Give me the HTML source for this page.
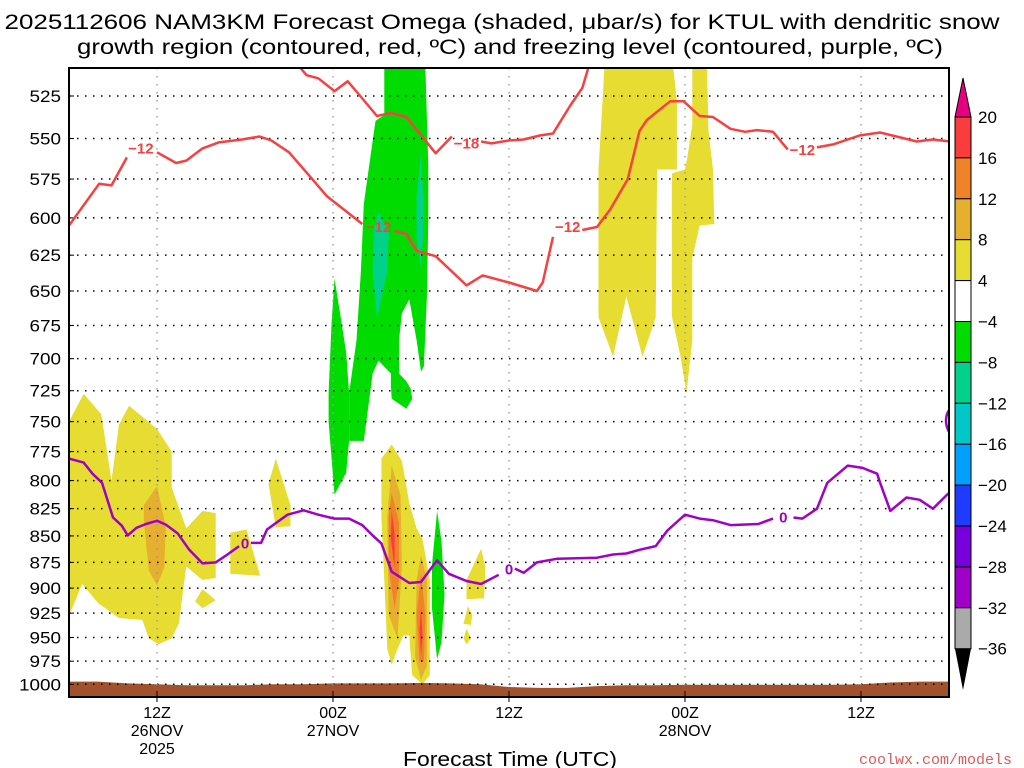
<!DOCTYPE html>
<html><head><meta charset="utf-8"><style>
html,body{margin:0;padding:0;background:#fff;}
svg{display:block;font-family:"Liberation Sans",sans-serif;}
</style></head><body>
<svg id="chart" width="1024" height="768" viewBox="0 0 1024 768">
<text x="502" y="29" font-size="21" text-anchor="middle" textLength="995" lengthAdjust="spacingAndGlyphs">2025112606 NAM3KM Forecast Omega (shaded, μbar/s) for KTUL with dendritic snow</text>
<text x="510" y="54" font-size="21" text-anchor="middle" textLength="866" lengthAdjust="spacingAndGlyphs">growth region (contoured, red, ºC) and freezing level (contoured, purple, ºC)</text>
<g id="plot"></g>
<text x="510" y="766" font-size="20" text-anchor="middle" textLength="214" lengthAdjust="spacingAndGlyphs">Forecast Time (UTC)</text>
<text x="1012" y="764" font-size="15" text-anchor="end" fill="#e05a5a" font-family="Liberation Mono, monospace">coolwx.com/models</text>
</svg>
<script>
// ---- data ----
const pLevels=[525,550,575,600,625,650,675,700,725,750,775,800,825,850,875,900,925,950,975,1000];
const xTickHours=[6,18,30,42,54];
const xTickTimes=["12Z","00Z","12Z","00Z","12Z"];
const xTickDates=["26NOV","27NOV","","28NOV",""];
const xTickYears=["2025","","","",""];
const cbLevels=[20,16,12,8,4,-4,-8,-12,-16,-20,-24,-28,-32,-36];
const cbColors=["#fa3c3c","#f08228","#e6af2d","#e6dc32","#ffffff","#00dc00","#00d28c","#00c8c8","#00a0ff","#1e3cff","#7800dc","#a000c8","#aaaaaa"];
const levelColor={4:"#e6dc32",8:"#e6af2d",12:"#f08228",16:"#fa3c3c",m4:"#00dc00",m8:"#00d28c"};

const redLowH=[0,2.05,2.9,3.95,null,6,7.3,8,9.1,10.2,11.8,13,13.8,15,16.4,17.6,20,null,22.2,23,23.7,25,27.1,28.2,30,31.9,32.3,33,null,35,36,36.9,38.1,38.9,39.4,41,41.9,43,43.9,45.1,46.1,46.9,48,49,null,51,52.1,53.9,55.3,56.7,57.8,58.9,60.1];
const redLowP=[605,578,579,561.5,null,558.4,565,563.5,556,552.4,550.6,548.8,551.2,558.4,573,586,604,null,608.6,610.6,622,625.7,646,639,644,650,644,612.6,null,608,606,594.5,575,545.5,539,528,528,536.6,537.2,544.2,546,545,546,556.6,null,555.4,553.6,548.2,546.4,549.4,551.8,550.6,551.8];
const redHighH=[15.8,16.2,17,18.1,19,19.8,21,21.95,23,25,26.1,null,28.1,28.8,30,31,32.1,33,34.2,35,35.4];
const redHighP=[509.3,513.2,514.9,522.2,516.6,524.4,536.6,534.8,537.2,559,548.8,null,551.8,553,551.2,550.6,548.2,547,530.2,520.4,509.3];
const redLabels=[["−12",4.9,556],["−12",21.1,606],["−18",27.1,553],["−12",34.0,606],["−12",50.0,557]];

const frzH=[0,1,1.6,2.25,3,3.6,4,4.6,5.25,6,6.6,7.4,8.2,9.1,10,10.7,11.6,null,12.4,13.1,13.5,14.9,16,17,18.1,19.1,20,20.7,21.3,22,23.2,24,25.1,25.9,27.1,28.1,29.3,null,30.4,31,31.9,33.3,36,37.1,38,38.9,40,40.8,42,43,43.9,45.1,47,48,null,49.4,50,51,51.7,53.1,54.1,55.1,55.3,56,57.1,58,58.9,59.9,60.1];
const frzP=[781,784.4,794,802,833,840.5,849.5,842.5,839,836,839.5,847.5,863,876,875,868.5,859.5,null,856.5,856.5,844,830.5,826.5,830.5,834,834,840,849.5,857,884,895,894,873,886,893,896,887,null,881,885,875,871.5,870.5,867.5,866.5,863,859.5,845,830.5,834,835.5,840,839,834,null,833,834,825,802,787,789,794,802,827,815,817,825,812,810];
const frzLabels=[["0",12.0,857],["0",30.0,882],["0",48.7,833]];

const surfH=[0,2,4,6,8,10,12,14,16,18,20,22,24,26,28,30,32,34,36,38,40,42,44,46,48,50,52,54,56,58,60];
const surfP=[997,997,999,1000,1001,1001,1001,1000,1000,999,999,999,998.5,999,1000,1003,1004,1004,1002,1001,1001,1000.5,1000.5,1000.5,1000.5,1000.5,1000.5,1000,998,997,997];

const shapes=[
 {name:"omega-yellow-left",lv:4,h:[0,1,2.2,2.9,3.4,4.1,6,7,7,8,9.1,10,10,9.1,8,7.8,7.5,7,6.1,5.45,5,3.4,2,0.9,0.1,0],p:[750,727.5,744,800,752.5,737,756,775,806,843,827,829,890,892,879,900,935,951,957,951,932,930,915,896,924,924]},
 {name:"omega-gold-left",lv:8,h:[5.1,6,6.6,6.5,6,5.45,5.1],p:[822,805,841,880,897,883,836]},
 {name:"omega-yellow-small1",lv:4,h:[9.1,10,9.1,8.6],p:[901,912,920,913]},
 {name:"omega-yellow-small2",lv:4,h:[11,12.1,13,13,11],p:[847,844,886,888,886]},
 {name:"omega-yellow-spike",lv:4,h:[14.1,15.1,15.1,14.1,13.6],p:[781,822,841,842,803]},
 {name:"omega-yellow-core",lv:4,h:[21.3,22,22.7,23.2,23.7,24.1,24.6,24.6,24.1,23.4,23.2,22.8,22.4,22,21.7,21.5,21.3],p:[781,769,783,820,843,853,892,990,1000,990,948,948,962,979,962,892,833]},
 {name:"omega-gold-core1",lv:8,h:[22,22.6,22.7,22.4,21.8,21.7],p:[787,813,879,951,927,832]},
 {name:"omega-gold-core2",lv:8,h:[24,24.4,24.4,24,23.6,23.7],p:[868,892,980,995,970,892]},
 {name:"omega-orange-core1",lv:12,h:[22,22.5,22.5,22.2,21.8,21.8],p:[811,838,892,920,880,833]},
 {name:"omega-orange-core2",lv:12,h:[24,24.3,24.2,23.9,23.7],p:[886,927,975,975,927]},
 {name:"omega-red-core1",lv:16,h:[22,22.2,22.2,21.95],p:[827,849,880,853]},
 {name:"omega-red-core2",lv:16,h:[24,24.1,24,23.9],p:[920,948,970,941]},
 {name:"omega-green-small",lv:"m4",h:[25.1,25.4,25.6,25.4,25.1,24.75,24.75],p:[827,855,906,955,973,920,877]},
 {name:"omega-yellow-small3",lv:4,h:[28.1,28.4,28.3,27.1,27.1],p:[862,880,910,911,892]},
 {name:"omega-yellow-small4",lv:4,h:[27.2,27.5,27.4,26.9],p:[918,927,937,936]},
 {name:"omega-yellow-small5",lv:4,h:[27.1,27.4,27.1,26.9],p:[941,951,957,951]},
 {name:"omega-green-main",lv:"m4",h:[21.5,21.5,20.9,20.6,20.1,19.9,19.6,19.1,19.1,20.1,20.6,20.7,21.1,21.95,21.95,22,23,23.4,23.3,23,22.5,22.5,22.7,23.2,23.7,24,24.2,24.4,24.5,24.5,24.3],p:[509.3,536,539.5,558,591,636,686,727,766,766,721,711.5,701.5,711.5,721,731.5,739.5,731.5,723.5,717.5,711.5,686,666,656,686,710,706,654,601,566.5,509.3]},
 {name:"omega-green-strip",lv:"m4",h:[18.1,18.5,18.9,19.1,19.1,18.9,18.1,17.7,17.7,17.9],p:[641,667,695.5,727,766,793,812.5,750,727,674]},
 {name:"omega-teal-1",lv:"m8",h:[21.1,21.8,21.7,21,20.7,20.8],p:[596,609,636,670,636,607]},
 {name:"omega-teal-2",lv:"m8",h:[24,24.2,24.1,24,23.7,23.7],p:[558.5,596,617,634,615,587]},
 {name:"omega-yellow-right1",lv:4,h:[36.5,41.2,41.45,41.45,40.1,40,39.1,38,37.1,36.1,36.1,36.4],p:[509.3,509.3,528,569,569,669,698.5,654,698.5,669,568.5,524.4]},
 {name:"omega-yellow-right2",lv:4,h:[42.5,43.5,43.6,43.9,44,43,42.5,42.5,42.1,41.7,41.1,41.1,42,42.2,42.5],p:[509.3,509.3,545.5,568.5,604,605,627,686,727,698.5,668,571.5,569,559.5,541.5]}
];

// ---- axes ----
const X0=69,X1=949,YT=68,YB=697;
const xs=h=>X0+h*(X1-X0)/60;
const ys=p=>96+913*Math.log(p/525);
const NS="http://www.w3.org/2000/svg";
const plot=document.getElementById('plot');
function mk(tag,attrs,parent){const e=document.createElementNS(NS,tag);for(const k in attrs)e.setAttribute(k,attrs[k]);(parent||plot).appendChild(e);return e;}

const clip=mk('clipPath',{id:'pc'});mk('rect',{x:X0,y:YT,width:X1-X0,height:YB-YT},clip);
const shade=mk('g',{'clip-path':'url(#pc)'});


shapes.forEach(s=>{
  const d=s.h.map((h,i)=>(i?'L':'M')+xs(h).toFixed(1)+','+ys(s.p[i]).toFixed(1)).join('')+'Z';
  const e=mk('path',{d:d,fill:levelColor[s.lv]},shade);
  
  
});
// ground
let gd='M'+xs(surfH[0])+','+YB;
surfH.forEach((h,i)=>{gd+='L'+xs(h).toFixed(1)+','+ys(surfP[i]).toFixed(1);});
gd+='L'+xs(surfH[surfH.length-1])+','+YB+'Z';
const ground=mk('path',{d:gd,fill:'#a0522d'},shade);



// grid and y labels
pLevels.forEach(p=>{
  const y=ys(p);
  const g=mk('line',{x1:X0,x2:X1,y1:y,y2:y,stroke:'#000','stroke-width':1.5,'stroke-dasharray':'1.5,6.5'});
  
  
  const t=mk('text',{x:61,y:y+6,'font-size':17,'text-anchor':'end'});t.textContent=p;
  t.setAttribute('textLength',String(p).length*10.5);
  t.setAttribute('lengthAdjust','spacingAndGlyphs');
  
  
  mk('line',{x1:X0,x2:X0+5,y1:y,y2:y,stroke:'#000','stroke-width':1});
});
xTickHours.forEach((h,i)=>{
  const x=xs(h);
  const g=mk('line',{x1:x,x2:x,y1:YT,y2:YB,stroke:'#999','stroke-width':1.3,'stroke-dasharray':'1.5,6.5'});
  
  
  mk('line',{x1:x,x2:x,y1:YB-6,y2:YB+5,stroke:'#000','stroke-width':1});
  [[xTickTimes[i],718],[xTickDates[i],736],[xTickYears[i],754]].forEach(([s,y])=>{
    if(!s)return;
    const t=mk('text',{x:x,y:y,'font-size':16,'text-anchor':'middle'});t.textContent=s;
    
    
  });
});

function linePath(H,P){let d='',pen=false;H.forEach((h,i)=>{if(h===null){pen=false;return;}d+=(pen?'L':'M')+xs(h).toFixed(1)+','+ys(P[i]).toFixed(1);pen=true;});return d;}
const lines=mk('g',{'clip-path':'url(#pc)',fill:'none','stroke-width':2.5,'stroke-linejoin':'round'});
let e=mk('path',{d:linePath(redLowH,redLowP),stroke:'#f84040'},lines);


e=mk('path',{d:linePath(redHighH,redHighP),stroke:'#f84040'},lines);


e=mk('path',{d:linePath(frzH,frzP),stroke:'#a000c8'},lines);


e=mk('path',{d:'M949,410 Q943,420 949,432',stroke:'#a000c8'},lines);


redLabels.forEach(([s,h,p])=>{const t=mk('text',{x:xs(h),y:ys(p)+5,'font-size':15,'font-weight':'bold','text-anchor':'middle',fill:'#f84040'});t.textContent=s;
  
  });
frzLabels.forEach(([s,h,p])=>{const t=mk('text',{x:xs(h),y:ys(p)+5,'font-size':15,'font-weight':'bold','text-anchor':'middle',fill:'#a000c8'});t.textContent=s;
  
  });

const frame=mk('rect',{x:X0,y:YT,width:X1-X0,height:YB-YT,fill:'none',stroke:'#000','stroke-width':2});



// colorbar
const cb=mk('g',{});


const CBX=955,CBW=16,CBT=117,CBS=40.9;
const cy=i=>CBT+i*CBS;
let tri=mk('path',{d:`M${CBX},${cy(0)}L${CBX+CBW/2},78L${CBX+CBW},${cy(0)}Z`,fill:'#e6007f',stroke:'#000','stroke-width':1},cb);


cbColors.forEach((c,i)=>{const r=mk('rect',{x:CBX,y:cy(i),width:CBW,height:CBS,fill:c,stroke:'#000','stroke-width':1},cb);
  
  });
tri=mk('path',{d:`M${CBX},${cy(cbColors.length)}L${CBX+CBW/2},690L${CBX+CBW},${cy(cbColors.length)}Z`,fill:'#000'},cb);


cbLevels.forEach((v,i)=>{const t=mk('text',{x:978,y:cy(i)+6,'font-size':17},cb);t.textContent=v<0?'−'+(-v):String(v);
  
  });
</script>
</body></html>
